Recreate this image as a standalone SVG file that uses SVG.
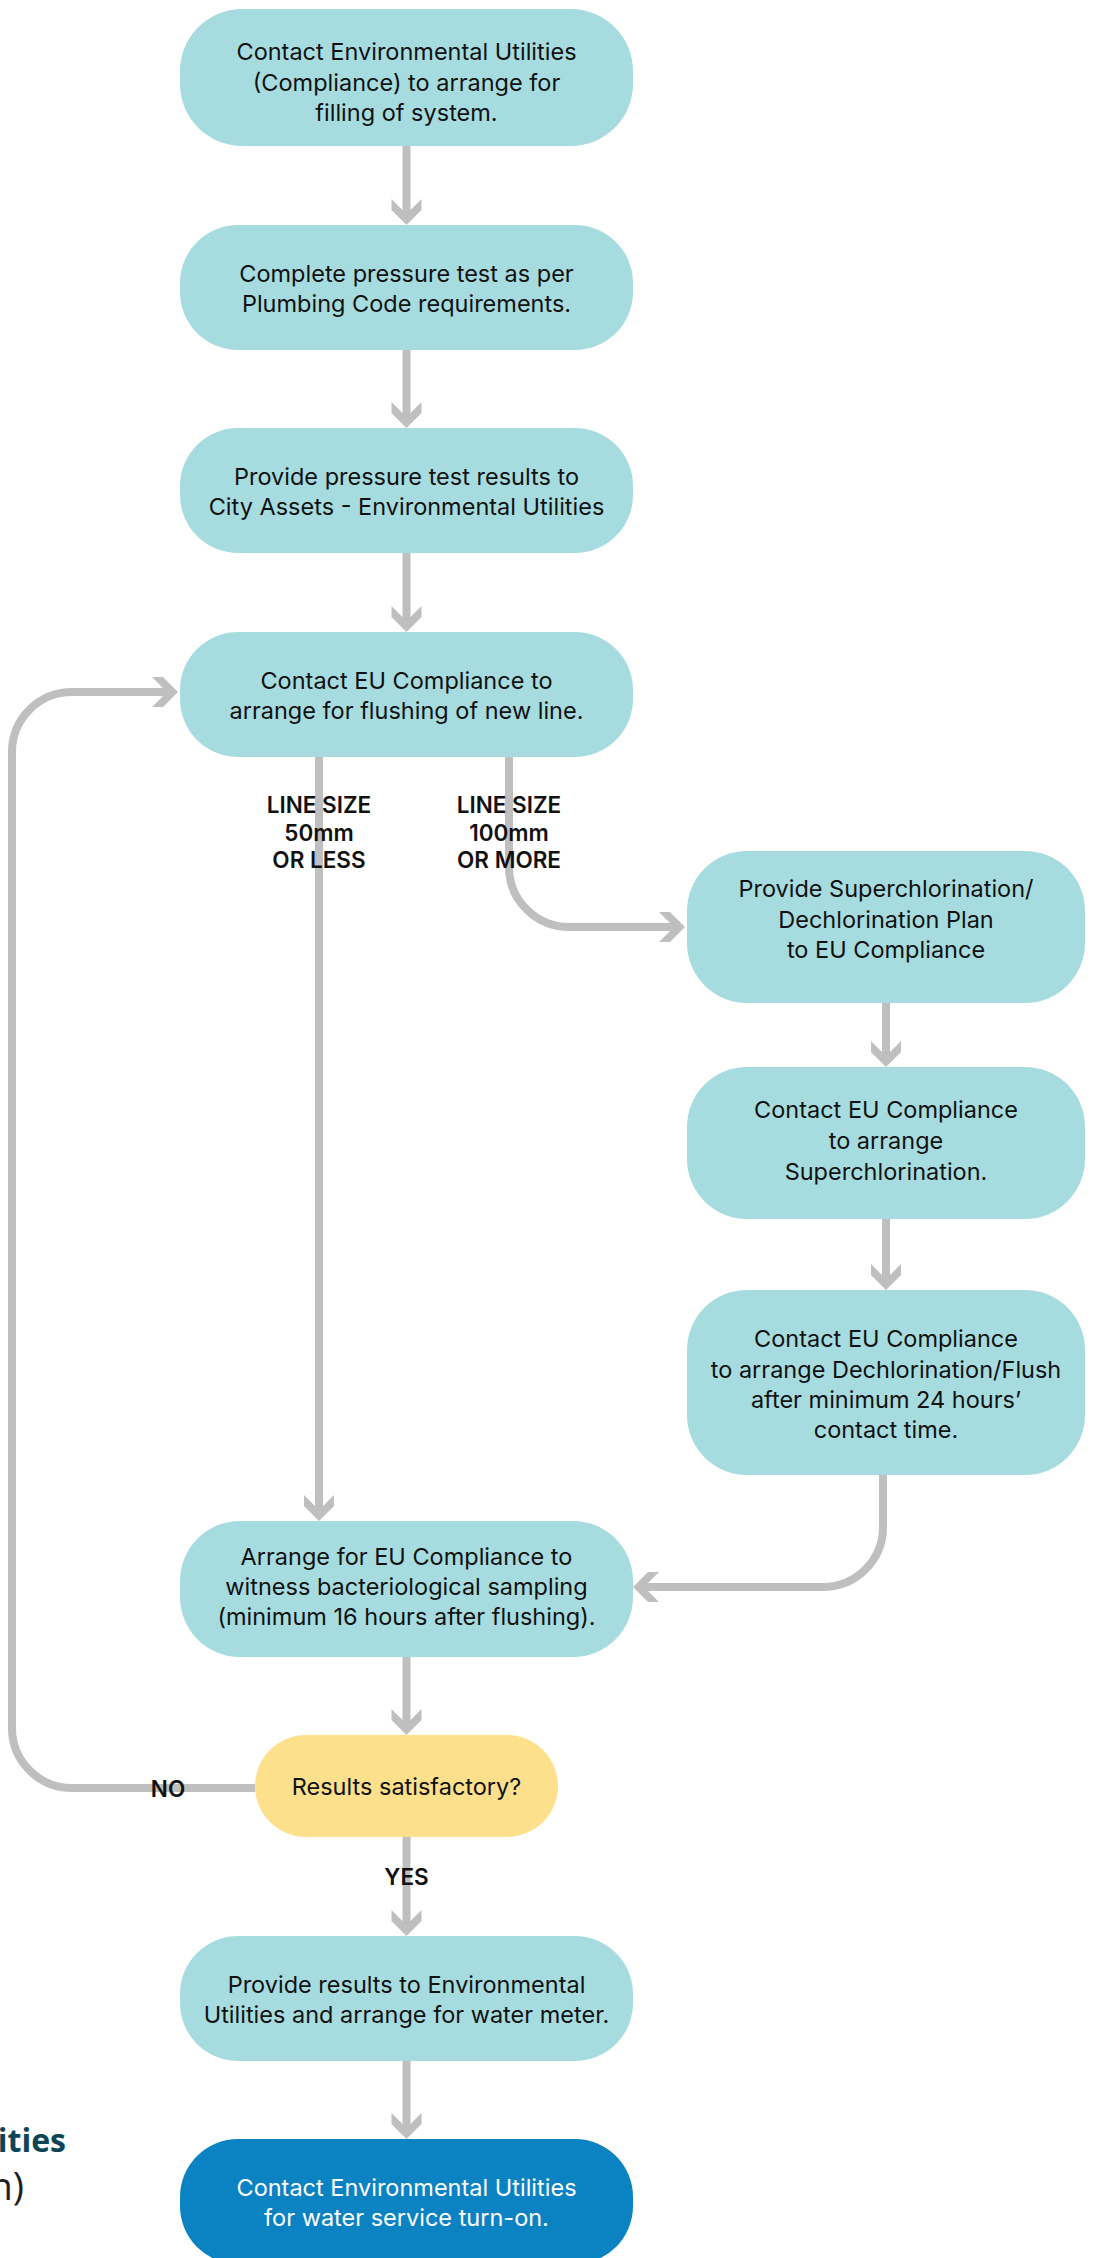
<svg xmlns="http://www.w3.org/2000/svg" width="1094" height="2258" viewBox="0 0 1094 2258">
<style>
.n{fill:#a6dcdf}
.d{fill:#fde08b}
.b{fill:#0b82c2}
.t{font-family:Inter,"Noto Sans",sans-serif;font-size:23.5px;fill:#111;text-anchor:middle}
.w{fill:#fff}
.lbl{font-family:Inter,"Noto Sans",sans-serif;font-size:22.5px;font-weight:600;fill:#111;text-anchor:middle}
.c{fill:none;stroke:#bfbfbf;stroke-width:8;marker-end:url(#arr)}
</style>
<defs>
<marker id="arr" markerUnits="userSpaceOnUse" viewBox="-30 -18 34 36" markerWidth="34" markerHeight="36" refX="-6" refY="0" orient="auto">
<polygon points="0,0 -15,-15 -26,-15 -11,0 -26,15 -15,15" fill="#bfbfbf"/>
</marker>
</defs>
<rect width="1094" height="2258" fill="#fff"/>
<g id="connectors">
<path class="c" d="M406.5,146 V219"/>
<path class="c" d="M406.5,350 V422"/>
<path class="c" d="M406.5,553 V626"/>
<path class="c" d="M319,757 V1515"/>
<path class="c" d="M509,757 V867 A60,60 0 0 0 569,927 H679"/>
<path class="c" d="M886,1003 V1061"/>
<path class="c" d="M886,1219 V1284"/>
<path class="c" d="M883,1475 V1527 A60,60 0 0 1 823,1587 H639"/>
<path class="c" d="M406.5,1657 V1729"/>
<path class="c" d="M406.5,1837 V1930"/>
<path class="c" d="M255,1788 H72 A60,60 0 0 1 12,1728 V752 A60,60 0 0 1 72,692 H172"/>
<path class="c" d="M406.5,2061 V2133"/>
</g>
<g id="n1"><rect class="n" x="180" y="9" width="453" height="137" rx="62"/>
<text class="t"><tspan x="406.5" y="60">Contact Environmental Utilities</tspan><tspan x="406.5" y="91">(Compliance) to arrange for</tspan><tspan x="406.5" y="121">filling of system.</tspan></text></g>
<g id="n2"><rect class="n" x="180" y="225" width="453" height="125" rx="58"/>
<text class="t"><tspan x="406.5" y="282">Complete pressure test as per</tspan><tspan x="406.5" y="312">Plumbing Code requirements.</tspan></text></g>
<g id="n3"><rect class="n" x="180" y="428" width="453" height="125" rx="58"/>
<text class="t"><tspan x="406.5" y="485">Provide pressure test results to</tspan><tspan x="406.5" y="515">City Assets - Environmental Utilities</tspan></text></g>
<g id="n4"><rect class="n" x="180" y="632" width="453" height="125" rx="58"/>
<text class="t"><tspan x="406.5" y="689">Contact EU Compliance to</tspan><tspan x="406.5" y="719">arrange for flushing of new line.</tspan></text></g>
<g id="r1"><rect class="n" x="687" y="851" width="398" height="152" rx="60"/>
<text class="t"><tspan x="886" y="897">Provide Superchlorination/</tspan><tspan x="886" y="928">Dechlorination Plan</tspan><tspan x="886" y="958">to EU Compliance</tspan></text></g>
<g id="r2"><rect class="n" x="687" y="1067" width="398" height="152" rx="60"/>
<text class="t"><tspan x="886" y="1118">Contact EU Compliance</tspan><tspan x="886" y="1149">to arrange</tspan><tspan x="886" y="1180">Superchlorination.</tspan></text></g>
<g id="r3"><rect class="n" x="687" y="1290" width="398" height="185" rx="60"/>
<text class="t"><tspan x="886" y="1347">Contact EU Compliance</tspan><tspan x="886" y="1378">to arrange Dechlorination/Flush</tspan><tspan x="886" y="1408">after minimum 24 hours’</tspan><tspan x="886" y="1438">contact time.</tspan></text></g>
<g id="n6"><rect class="n" x="180" y="1521" width="453" height="136" rx="60"/>
<text class="t"><tspan x="406.5" y="1565">Arrange for EU Compliance to</tspan><tspan x="406.5" y="1595">witness bacteriological sampling</tspan><tspan x="406.5" y="1625">(minimum 16 hours after flushing).</tspan></text></g>
<g id="dec"><rect class="d" x="255" y="1735" width="303" height="102" rx="51"/>
<text class="t" x="406.5" y="1795">Results satisfactory?</text></g>
<g id="n8"><rect class="n" x="180" y="1936" width="453" height="125" rx="58"/>
<text class="t"><tspan x="406.5" y="1993">Provide results to Environmental</tspan><tspan x="406.5" y="2023">Utilities and arrange for water meter.</tspan></text></g>
<g id="n9"><rect class="b" x="180" y="2139" width="453" height="125" rx="58"/>
<text class="t w"><tspan x="406.5" y="2196">Contact Environmental Utilities</tspan><tspan x="406.5" y="2226">for water service turn-on.</tspan></text></g>
<g id="labels">
<text class="lbl"><tspan x="319" y="813">LINE SIZE</tspan><tspan x="319" y="841">50mm</tspan><tspan x="319" y="868">OR LESS</tspan></text>
<text class="lbl"><tspan x="509" y="813">LINE SIZE</tspan><tspan x="509" y="841">100mm</tspan><tspan x="509" y="868">OR MORE</tspan></text>
<text class="lbl" x="168" y="1797">NO</text>
<text class="lbl" x="406.5" y="1885">YES</text>
</g>
<g id="edge-text">
<text x="66" y="2152" text-anchor="end" font-family="'Open Sans',sans-serif" font-weight="700" font-size="32" fill="#0e4556">ities</text>
<text x="24" y="2200" text-anchor="end" font-family="'Open Sans',sans-serif" font-size="38" fill="#1d1d1d">n)</text>
</g>
</svg>
